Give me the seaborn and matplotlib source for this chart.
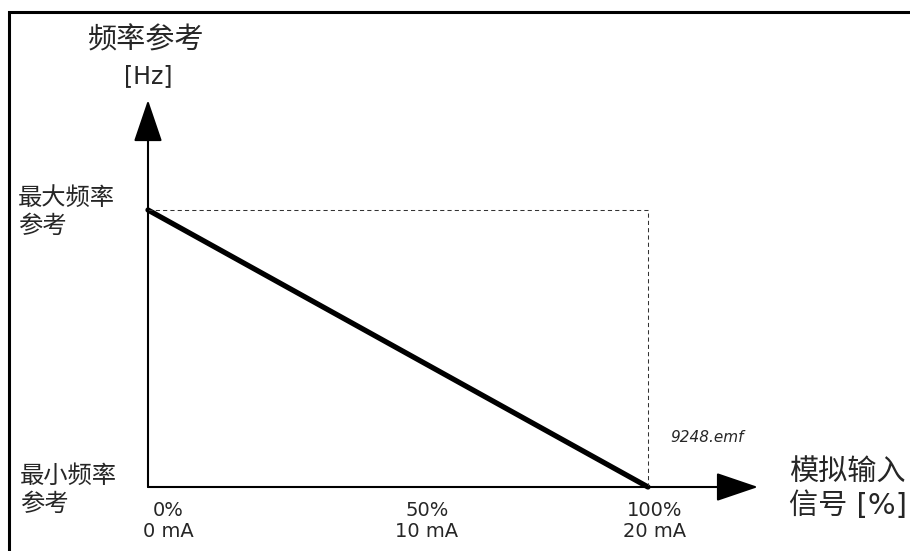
import matplotlib
matplotlib.use("Agg")
import matplotlib.pyplot as plt
import seaborn as sns
from matplotlib.patches import Rectangle

# Datos del gráfico
signal_pct = [0, 100]          # señal de entrada analógica [%]
freq_ref = [1, 0]              # referencia de frecuencia (máx -> mín)
tick_pos = [0, 50, 100]
tick_labels = ["0%\n0 mA", "50%\n10 mA", "100%\n20 mA"]

sns.set_style("white")
plt.rcParams["font.family"] = ["DejaVu Sans", "Noto Sans CJK SC"]

W, H = 910, 551
fig = plt.figure(figsize=(W / 100, H / 100), dpi=100)
ax = fig.add_axes([0, 0, 1, 1])

# escala: x=0 en px 148, 5 px por %; y=0 en px 487, y=1 en px 210
x0, sx = 148, 5.0
y0, sy = 487, 277.0
ax.set_xlim(-x0 / sx, (W - x0) / sx)
ax.set_ylim((y0 - H) / sy, y0 / sy)
ax.axis("off")


def px(x, y):
    return x / W, 1 - y / H


# línea principal
sns.lineplot(x=signal_pct, y=freq_ref, ax=ax, color="black", linewidth=3.8,
             solid_capstyle="round")

# líneas guía discontinuas
ax.hlines(max(freq_ref), min(signal_pct), max(signal_pct), colors="#333333",
          linewidth=0.75, linestyles=(0, (4, 3)))
ax.vlines(max(signal_pct), min(freq_ref), max(freq_ref), colors="#333333",
          linewidth=0.75, linestyles=(0, (4, 3)))

# ejes con flechas
arrow = dict(arrowstyle="-|>,head_length=26.5,head_width=9", mutation_scale=1,
             color="black", lw=1.5, shrinkA=0, shrinkB=0)
ax.annotate("", xy=(122, 0), xytext=(0, 0), arrowprops=arrow)
ax.annotate("", xy=(0, 1.397), xytext=(0, 0), arrowprops=arrow)

# etiquetas del eje x
label_x = [4, 55.8, 101.4]
for xp, lab in zip(label_x, tick_labels):
    ax.text(xp, (y0 - 521) / sy, lab, ha="center", va="center", fontsize=14,
            linespacing=1.1)

# textos
fig.text(*px(146, 41), "频率参考", ha="center", va="center", fontsize=21)
fig.text(*px(148, 76), "[Hz]", ha="center", va="center", fontsize=17)
fig.text(*px(18, 212), "最大频率\n参考", ha="left", va="center", fontsize=17.5,
         linespacing=1.2)
fig.text(*px(20, 490), "最小频率\n参考", ha="left", va="center", fontsize=17.5,
         linespacing=1.2)
fig.text(*px(789, 489), "模拟输入\n信号 [%]", ha="left", va="center",
         fontsize=21, linespacing=1.25)
fig.text(*px(670, 437), "9248.emf", ha="left", va="center", fontsize=11,
         style="italic")

# marco
fig.add_artist(Rectangle(px(9, H + 20), 1.0, (H + 8) / H, transform=fig.transFigure,
                         fill=False, edgecolor="black", linewidth=2.2))

fig.savefig("out.png", dpi=100)
